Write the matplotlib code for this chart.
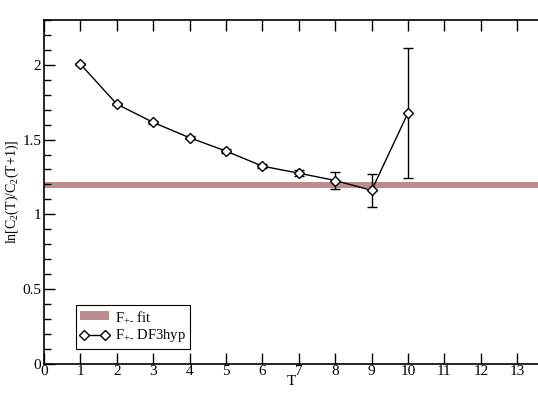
import numpy as np
import matplotlib.pyplot as plt
from matplotlib.ticker import MultipleLocator
from matplotlib.lines import Line2D
from matplotlib.patches import Patch

# data
T = [1, 2, 3, 4, 5, 6, 7, 8, 9, 10]
ratio = [2.005, 1.737, 1.615, 1.512, 1.423, 1.322, 1.275, 1.226, 1.16, 1.679]
ratio_err = [0.008, 0.008, 0.01, 0.01, 0.012, 0.015, 0.022, 0.06, 0.11, 0.433]
fit_value = 1.197
fit_halfwidth = 0.02

plt.rcParams['font.family'] = ['Liberation Serif', 'DejaVu Serif']
plt.rcParams['mathtext.fontset'] = 'custom'
plt.rcParams['mathtext.rm'] = 'Liberation Serif'
plt.rcParams['mathtext.it'] = 'Liberation Serif'

fig = plt.figure(figsize=(5.38, 4.16), dpi=100)
ax = fig.add_axes([0.0818, 0.1257, 0.9182, 0.8262])

fit_color = '#bc8c8c'
ax.fill_between([0, 14], fit_value - fit_halfwidth, fit_value + fit_halfwidth,
                color=fit_color, lw=0)
ax.errorbar(T, ratio, yerr=ratio_err, color='black', lw=1, marker='D',
            markersize=5.5, mfc='white', mec='black', mew=1, capsize=3.6,
            elinewidth=1, capthick=1)

ax.set_xlim(0, 13.57)
ax.set_ylim(0, 2.3)
ax.xaxis.set_major_locator(MultipleLocator(1))
ax.yaxis.set_minor_locator(MultipleLocator(0.1))
ax.tick_params(which='both', direction='in', top=True, right=False, labelsize=11)
ax.tick_params(which='major', length=8, width=1)
ax.tick_params(which='minor', length=5, width=1)
ax.tick_params(axis='x', pad=1)
ax.tick_params(axis='y', pad=2)
ax.set_yticks([0, 0.5, 1, 1.5, 2])
ax.set_yticklabels(['0', '0.5', '1', '1.5', '2'])
ax.spines['right'].set_visible(False)
for s in ['left', 'bottom', 'top']:
    ax.spines[s].set_linewidth(1.2)

ax.set_xlabel('T', fontsize=11, labelpad=-2)
ax.set_ylabel(r'ln[C$_2$(T)/C$_2$(T+1)]', fontsize=10, labelpad=1)

handles = [Patch(facecolor=fit_color, edgecolor='none'),
           Line2D([], [], color='black', lw=1, marker='D', markersize=5.5,
                  mfc='white', mec='black', mew=1)]
labels = [r'F$_{+\text{-}}$ fit', r'F$_{+\text{-}}$ DF3hyp']
leg = ax.legend(handles, labels, loc='lower left', bbox_to_anchor=(0.058, 0.035),
                fontsize=10.5, frameon=True, fancybox=False, edgecolor='black',
                framealpha=1, handlelength=2.0, handleheight=0.6, numpoints=2,
                borderpad=0.3, labelspacing=0.25, handletextpad=0.4,
                borderaxespad=0.2)
leg.get_frame().set_linewidth(0.8)

fig.savefig('out.png', dpi=100)
